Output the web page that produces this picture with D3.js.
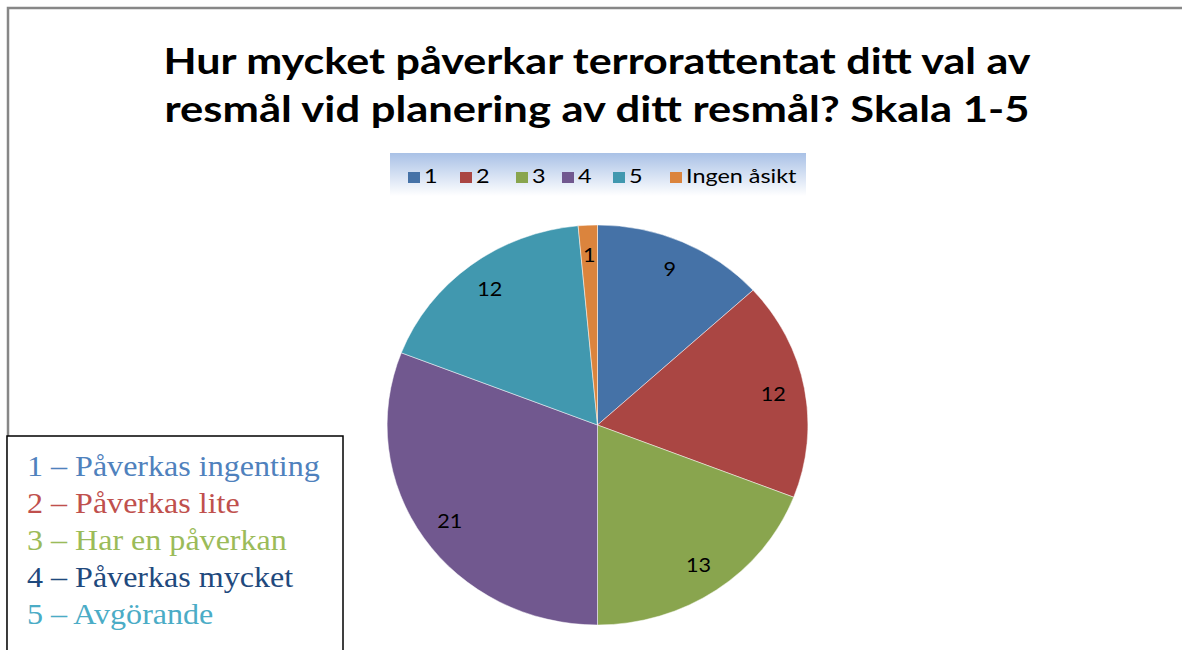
<!DOCTYPE html>
<html><head><meta charset="utf-8">
<script src="https://cdn.jsdelivr.net/npm/d3@7"></script>
<style>body{margin:0;background:#fff}svg{display:block}</style>
</head><body>
<script>
const categories = ["1","2","3","4","5","Ingen åsikt"];
const values = [9,12,13,21,12,1];
const colors = ["#4572a7","#aa4643","#89a54e","#71588f","#4198af","#db843d"];
const titleLines = ["Hur mycket påverkar terrorattentat ditt val av","resmål vid planering av ditt resmål? Skala 1-5"];
const noteLines = ["1 – Påverkas ingenting","2 – Påverkas lite","3 – Har en påverkan","4 – Påverkas mycket","5 – Avgörande"];
const noteColors = ["#4f81bd","#c0504d","#9bbb59","#1f497d","#4bacc6"];

const W=1182,H=650;
const svg=d3.select("body").append("svg").attr("width",W).attr("height",H);
const defs=svg.append("defs");
const gr=defs.append("linearGradient").attr("id","lg").attr("x1",0).attr("y1",0).attr("x2",0).attr("y2",1);
gr.append("stop").attr("offset","0%").attr("stop-color","#a9c1e6");
gr.append("stop").attr("offset","100%").attr("stop-color","#ffffff");

// outer chart frame
svg.append("rect").attr("x",8).attr("y",8).attr("width",1300).attr("height",800)
  .attr("fill","#fff").attr("stroke","#878787").attr("stroke-width",2.5);

// title
const tw=[867,865];
svg.append("g").selectAll("text").data(titleLines).join("text")
  .attr("x",597).attr("y",(d,i)=>74+i*48).attr("text-anchor","middle")
  .attr("font-family","Lato, 'Open Sans', sans-serif").attr("font-weight","bold")
  .attr("font-size",37).attr("fill","#000")
  .attr("textLength",(d,i)=>tw[i]).attr("lengthAdjust","spacingAndGlyphs")
  .text(d=>d);

// legend
svg.append("rect").attr("x",390).attr("y",153).attr("width",416).attr("height",43).attr("fill","url(#lg)");
const legX=d3.scaleOrdinal().domain(categories).range([408,460,516,562,613,670]);
const lg=svg.append("g").selectAll("g").data(categories).join("g")
  .attr("transform",d=>`translate(${legX(d)},172)`);
lg.append("rect").attr("width",12).attr("height",11).attr("fill",(d,i)=>colors[i]);
lg.append("text").attr("x",16).attr("y",11).attr("font-family","Lato, sans-serif")
  .attr("font-size",20).attr("fill","#000").text(d=>d)
  .each(function(){const w=this.getComputedTextLength();d3.select(this).attr("textLength",w*1.17).attr("lengthAdjust","spacingAndGlyphs");});

// pie
const cx=597.5,cy=425,rx=210.5,ry=200;
const pie=d3.pie().sort(null).value(d=>d)(values);
const arc=d3.arc().innerRadius(0).outerRadius(1);
const pg=svg.append("g").attr("transform",`translate(${cx},${cy}) scale(${rx},${ry})`);
pg.selectAll("path").data(pie).join("path").attr("d",arc)
  .attr("fill",(d,i)=>colors[i]).attr("stroke","#ffffff").attr("stroke-opacity",0.6)
  .attr("stroke-width",0.8).attr("vector-effect","non-scaling-stroke");
const lr=0.85;
svg.append("g").selectAll("text").data(pie).join("text")
  .attr("x",d=>{const a=(d.startAngle+d.endAngle)/2;return cx+Math.sin(a)*lr*rx;})
  .attr("y",d=>{const a=(d.startAngle+d.endAngle)/2;return cy-Math.cos(a)*lr*ry;})
  .attr("dy","0.35em").attr("text-anchor","middle")
  .attr("font-family","Lato, sans-serif").attr("font-size",20).attr("fill","#000")
  .text(d=>d.data)
  .each(function(){const w=this.getComputedTextLength();d3.select(this).attr("textLength",w*1.08).attr("lengthAdjust","spacingAndGlyphs");});

// text box
svg.append("rect").attr("x",7).attr("y",436).attr("width",336).attr("height",260)
  .attr("fill","#fff").attr("stroke","#000").attr("stroke-width",1.5);
svg.append("g").selectAll("text").data(noteLines).join("text")
  .attr("x",27).attr("y",(d,i)=>476+i*37)
  .attr("font-family","'Liberation Serif', 'Times New Roman', serif").attr("font-size",29)
  .attr("fill",(d,i)=>noteColors[i]).text(d=>d)
  .each(function(){const w=this.getComputedTextLength();d3.select(this).attr("textLength",w*1.105).attr("lengthAdjust","spacingAndGlyphs");});
</script>
</body></html>
